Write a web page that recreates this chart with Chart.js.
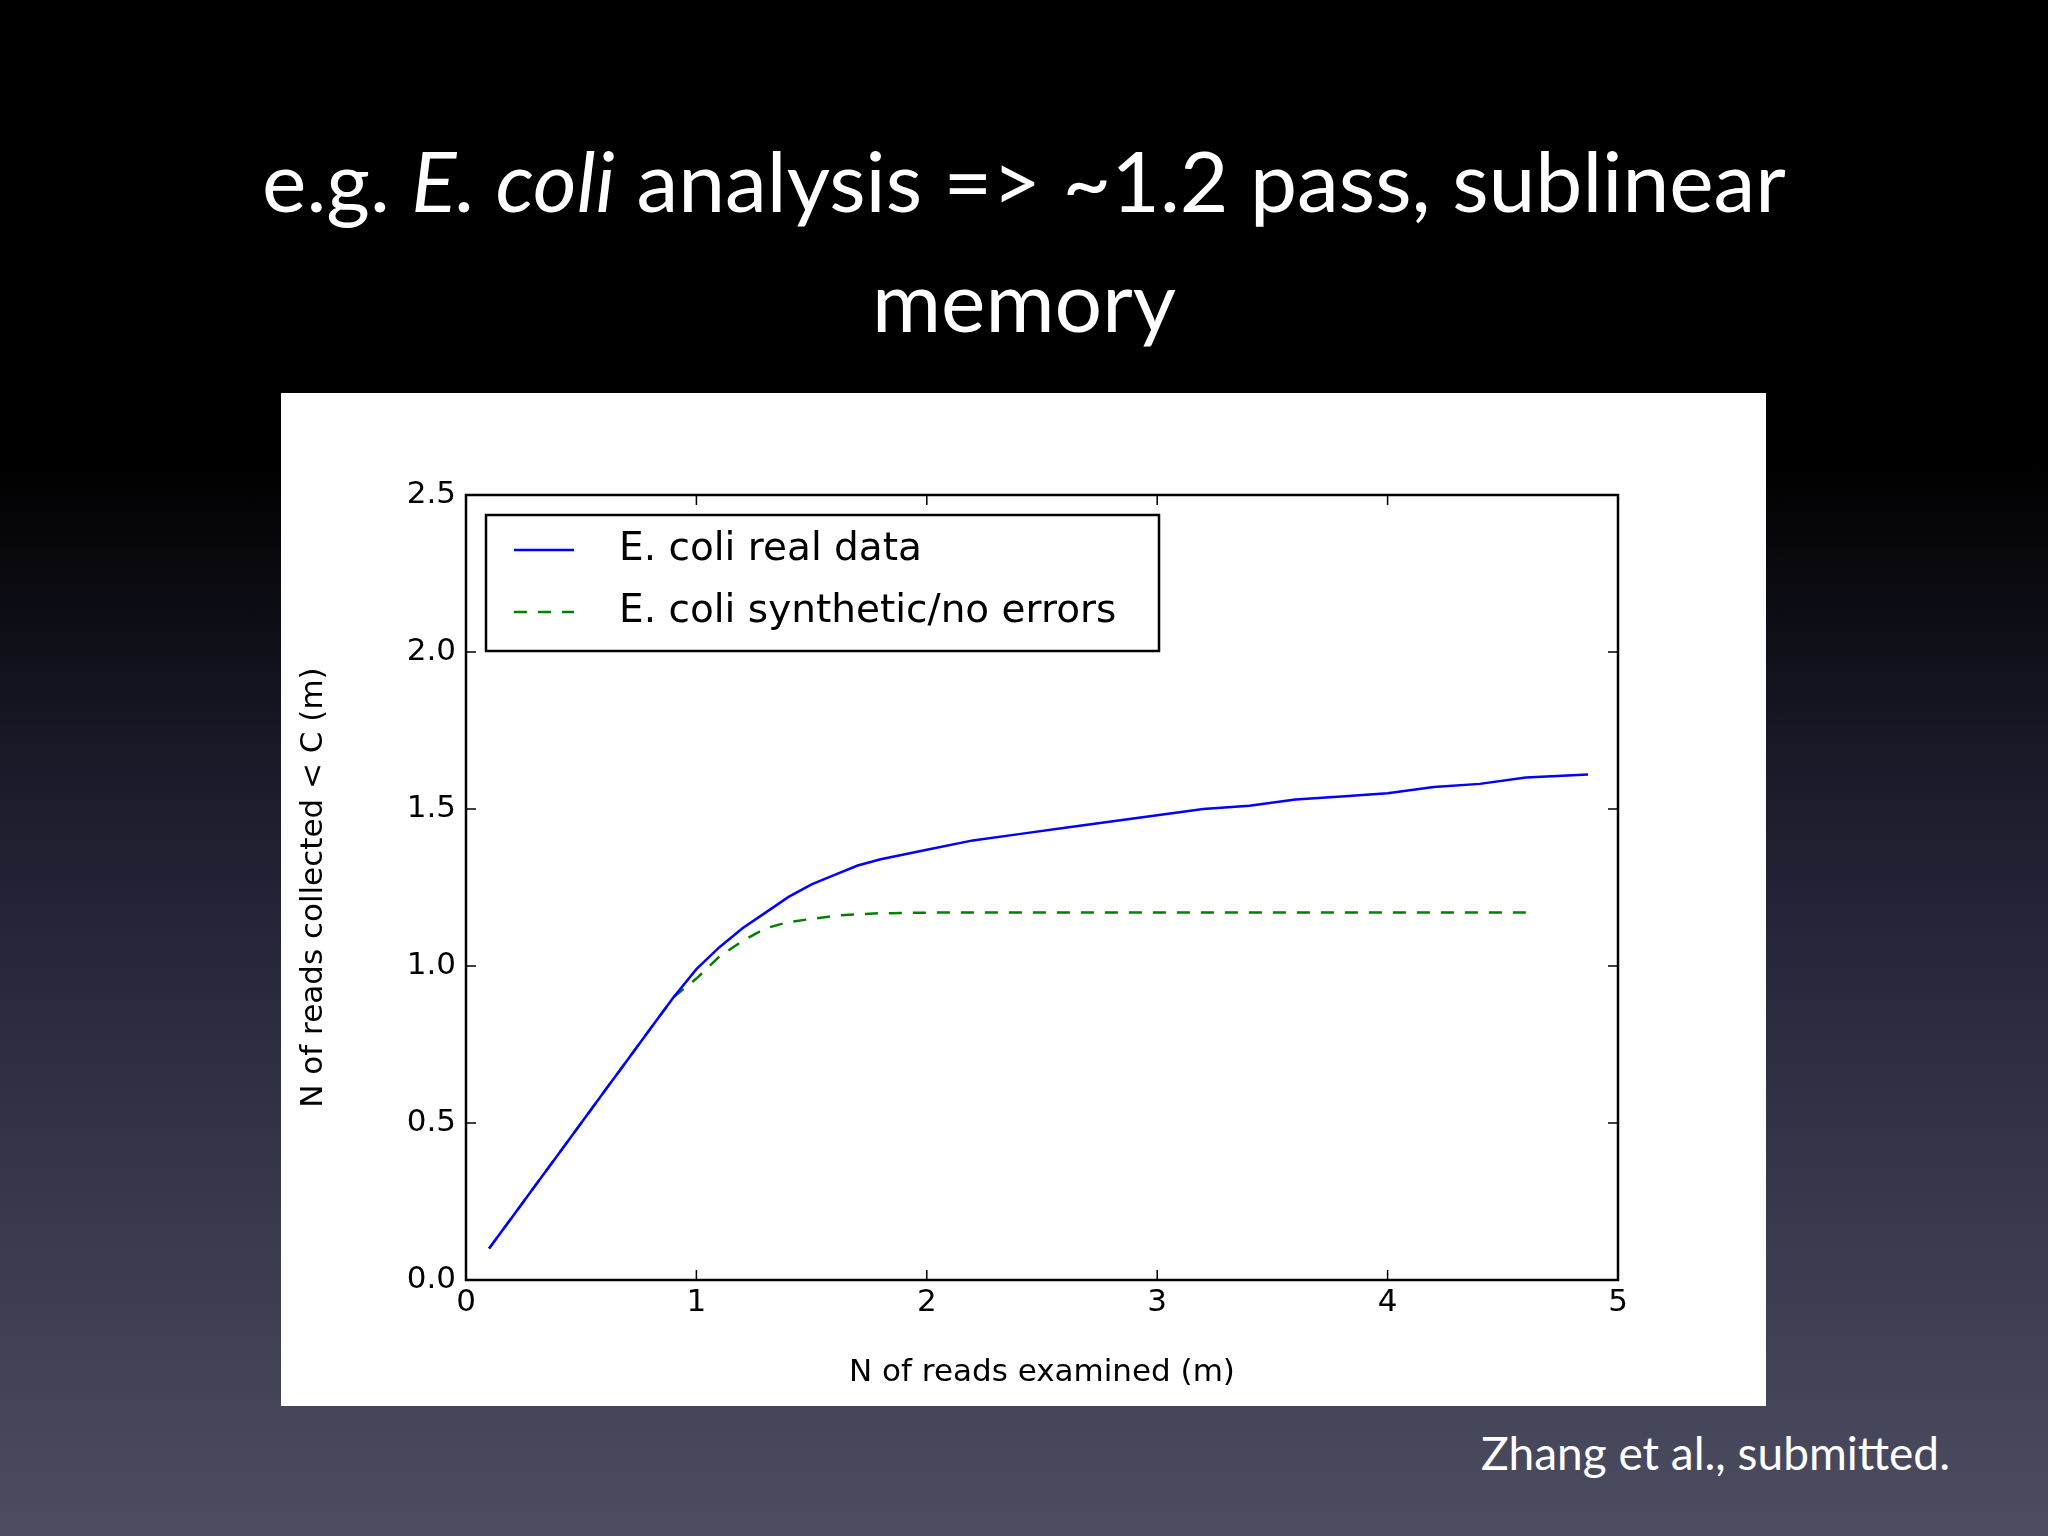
<!DOCTYPE html>
<html><head><meta charset="utf-8">
<script src="https://cdn.jsdelivr.net/npm/chart.js@4/dist/chart.umd.min.js"></script>
<style>
html,body{margin:0;padding:0;}
body{width:2048px;height:1536px;position:relative;overflow:hidden;
background:linear-gradient(to bottom,#000 0%,#000 30%,#1a1a2a 50%,#35354a 75%,#4d4d62 100%);}
#title{position:absolute;left:0;width:2048px;top:120px;text-align:center;color:#fff;font-family:Lato,"Open Sans",sans-serif;font-size:84px;line-height:120px;}
#panel{position:absolute;left:281px;top:393px;width:1485px;height:1013px;background:#fff;}
#foot{position:absolute;right:98px;top:1425px;color:#fff;font-family:Lato,"Open Sans",sans-serif;font-size:46px;}
</style></head><body>
<div id="title">e.g. <i>E. coli</i> analysis =&gt; ~1.2 pass, sublinear<br>memory</div>
<div id="panel"><canvas id="c" width="1485" height="1013"></canvas></div>
<div id="foot">Zhang et al., submitted.</div>
<script>
const realX=[0.1,0.2,0.3,0.4,0.5,0.6,0.7,0.8,0.9,1.0,1.1,1.2,1.3,1.4,1.5,1.6,1.7,1.8,2.0,2.2,2.4,2.6,2.8,3.0,3.2,3.4,3.6,3.8,4.0,4.2,4.4,4.6,4.87];
const realY=[0.1,0.2,0.3,0.4,0.5,0.6,0.7,0.8,0.9,0.99,1.06,1.12,1.17,1.22,1.26,1.29,1.32,1.34,1.37,1.40,1.42,1.44,1.46,1.48,1.50,1.51,1.53,1.54,1.55,1.57,1.58,1.60,1.61];
const synX=[0.1,0.2,0.3,0.4,0.5,0.6,0.7,0.8,0.9,1.0,1.1,1.2,1.3,1.4,1.5,1.6,1.7,1.8,2.0,2.5,3.0,3.5,4.0,4.6];
const synY=[0.1,0.2,0.3,0.4,0.5,0.6,0.7,0.8,0.9,0.96,1.03,1.08,1.12,1.14,1.15,1.16,1.165,1.168,1.17,1.17,1.17,1.17,1.17,1.17];
const seriesNames=["E. coli real data","E. coli synthetic/no errors"];
const F="'DejaVu Sans',sans-serif";
const pts=(xs,ys)=>xs.map((x,i)=>({x:x,y:ys[i]}));
const frame={id:'frame',afterDraw(ch){
 const c=ch.ctx,a=ch.chartArea,xs=ch.scales.x,ys=ch.scales.y;
 c.save();c.strokeStyle='#000';c.lineWidth=2.5;
 c.strokeRect(a.left,a.top,a.right-a.left,a.bottom-a.top);
 c.lineWidth=1.5;
 for(let v=0;v<=5;v++){const p=xs.getPixelForValue(v);c.beginPath();c.moveTo(p,a.bottom);c.lineTo(p,a.bottom-10);c.moveTo(p,a.top);c.lineTo(p,a.top+10);c.stroke();}
 for(let v=0;v<=2.5;v+=0.5){const p=ys.getPixelForValue(v);c.beginPath();c.moveTo(a.left,p);c.lineTo(a.left+10,p);c.moveTo(a.right,p);c.lineTo(a.right-10,p);c.stroke();}
 // legend
 const lx=a.left+20,ly=a.top+20,w=673,h=136;
 c.fillStyle='#fff';c.fillRect(lx,ly,w,h);c.lineWidth=2.5;c.strokeRect(lx,ly,w,h);
 c.font="39px "+F;c.textBaseline='middle';
 ch.data.datasets.forEach((d,i)=>{const y=ly+35+i*62;
  c.strokeStyle=d.borderColor;c.lineWidth=2.5;c.setLineDash(d.borderDash||[]);
  c.beginPath();c.moveTo(lx+28,y);c.lineTo(lx+88,y);c.stroke();c.setLineDash([]);
  c.fillStyle='#000';c.fillText(d.label,lx+133,y);});
 c.restore();}};
new Chart(document.getElementById('c'),{type:'scatter',
 data:{datasets:[
  {label:seriesNames[0],data:pts(realX,realY),showLine:true,borderColor:'#0000ff',borderWidth:2.5,pointRadius:0,fill:false},
  {label:seriesNames[1],data:pts(synX,synY),showLine:true,borderColor:'#008000',borderDash:[13,11],borderWidth:2.5,pointRadius:0,fill:false}]},
 options:{responsive:false,animation:false,
  layout:{padding:{left:10,top:102,right:148,bottom:10}},
  plugins:{legend:{display:false},tooltip:{enabled:false}},
  scales:{
   x:{type:'linear',min:0,max:5,afterFit(s){s.height=116;},
    ticks:{stepSize:1,color:'#000',font:{family:F,size:31},padding:4},
    grid:{drawOnChartArea:false,drawTicks:false},border:{display:false},
    title:{display:true,text:'N of reads examined (m)',color:'#000',font:{family:F,size:31},padding:{top:6}}},
   y:{type:'linear',min:0,max:2.5,afterFit(s){s.width=175;},
    ticks:{stepSize:0.5,color:'#000',font:{family:F,size:31},padding:10,callback:v=>v.toFixed(1)},
    grid:{drawOnChartArea:false,drawTicks:false},border:{display:false},
    title:{display:true,text:'N of reads collected < C (m)',color:'#000',font:{family:F,size:31},padding:{bottom:6}}}}},
 plugins:[frame]});
</script></body></html>
